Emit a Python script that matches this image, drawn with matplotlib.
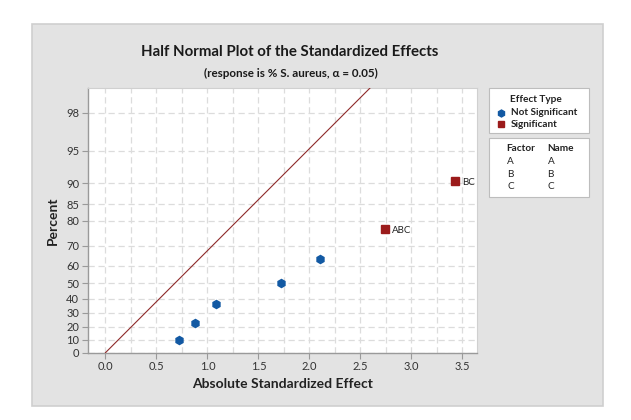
import numpy as np
import matplotlib
matplotlib.use('Agg')
from matplotlib import pyplot as plt
from matplotlib.patches import Rectangle
from matplotlib.lines import Line2D
from statistics import NormalDist

# effects
effects = [0.72, 0.88, 1.08, 1.72, 2.10, 2.74, 3.43]
percents = [9.5, 23.0, 36.5, 50.0, 63.5, 77.0, 90.5]
significant = [False, False, False, False, False, True, True]
point_labels = ['', '', '', '', '', 'ABC', 'BC']

y_ticks = [0, 10, 20, 30, 40, 50, 60, 70, 80, 85, 90, 95, 98]
x_ticks = [0.0, 0.5, 1.0, 1.5, 2.0, 2.5, 3.0, 3.5]
line_slope = 1.01  # reference line: effect = slope * z

factors = ['A', 'B', 'C']
names = ['A', 'B', 'C']

FONT = ['Lato', 'DejaVu Sans']
plt.rcParams['font.family'] = FONT

nd = NormalDist()
_inv = np.vectorize(lambda p: nd.inv_cdf(min(max(0.5 + p / 200.0, 1e-12), 1 - 1e-12)),
                    otypes=[float])
_fwd = np.vectorize(lambda z: 200.0 * (nd.cdf(z) - 0.5), otypes=[float])


def half_normal(p):
    return _inv(np.asarray(p, dtype=float))


def half_normal_inv(z):
    return _fwd(np.asarray(z, dtype=float))


W, H = 631, 420
fig = plt.figure(figsize=(W / 100, H / 100), dpi=100)
fig.patch.set_facecolor('white')


def px(x0, y0, x1, y1):
    return (x0 / W, 1 - y1 / H, (x1 - x0) / W, (y1 - y0) / H)


# gray panel
l, b, w, h = px(32, 24, 603, 406)
fig.patches.append(Rectangle((l, b), w, h, transform=fig.transFigure,
                             facecolor='#e3e3e3', edgecolor='#cfcfcf', lw=1.2, zorder=-2))

ax = fig.add_axes(px(87.5, 88.3, 476.7, 352.7))
ax.set_zorder(2)
ax.set_facecolor('white')
ax.set_yscale('function', functions=(half_normal, half_normal_inv))
ax.set_ylim(0, 98.97)
ax.set_xlim(-0.176, 3.64)

ax.set_xticks(x_ticks)
ax.set_xticks(np.arange(0.25, 3.6, 0.5), minor=True)
ax.set_xticklabels([f'{t:.1f}' for t in x_ticks])
ax.set_yticks(y_ticks)
ax.set_yticklabels([str(t) for t in y_ticks])
ax.yaxis.set_minor_locator(matplotlib.ticker.NullLocator())

grid_kw = dict(color='#dcdcdc', linestyle=(0, (5, 3)), linewidth=0.9)
ax.grid(True, which='major', axis='both', **grid_kw)
ax.grid(True, which='minor', axis='x', **grid_kw)
ax.set_axisbelow(True)

ax.tick_params(axis='both', which='major', labelsize=8, colors='#9a9a9a',
               labelcolor='#333333', length=4, width=0.8, pad=2)
ax.tick_params(axis='x', which='minor', length=0)
for side in ['left', 'bottom']:
    ax.spines[side].set_color('#9a9a9a')
    ax.spines[side].set_linewidth(1.0)
for side in ['top', 'right']:
    ax.spines[side].set_color('#d0d0d0')
    ax.spines[side].set_linewidth(0.8)

# reference line
ztop = 3.0
ax.plot([0, line_slope * ztop], [0, float(half_normal_inv(ztop))],
        color='#8e2a2a', lw=0.8, zorder=3, clip_on=True)

for x, p, sig, lab in zip(effects, percents, significant, point_labels):
    if sig:
        ax.plot(x, p, marker='s', ms=5.5, color='#9b1b1b', mec='#9b1b1b', zorder=4)
        ax.annotate(lab, (x, p), xytext=(5, -1), textcoords='offset points',
                    va='center', ha='left', fontsize=7, color='#222222')
    else:
        ax.plot(x, p, marker='h', ms=5.8, color='#1259a3', mec='#1259a3', zorder=4)

ax.set_xlabel('Absolute Standardized Effect', fontsize=10, fontweight='bold',
              color='#222222', labelpad=4)
ax.set_ylabel('Percent', fontsize=10, fontweight='bold', color='#222222', labelpad=5)

fig.text(290 / W, 1 - 52 / H, 'Half Normal Plot of the Standardized Effects',
         ha='center', va='center', fontsize=10.8, fontweight='bold', color='#1a1a1a')
fig.text(291 / W, 1 - 73 / H, '(response is % S. aureus, \u03b1 = 0.05)',
         ha='center', va='center', fontsize=8.4, fontweight='bold', color='#1a1a1a')

# legend boxes
for box in [(489, 88, 589, 133), (489, 138, 589, 197)]:
    l, b, w, h = px(*box)
    fig.patches.append(Rectangle((l, b), w, h, transform=fig.transFigure,
                                 facecolor='white', edgecolor='#bdbdbd', lw=0.8, zorder=1))

fs = 7.2
fig.text(536 / W, 1 - 99 / H, 'Effect Type', ha='center', va='center', fontsize=fs,
         fontweight='bold', color='#222222')
fig.add_artist(Line2D([501 / W], [1 - 112.5 / H], marker='h', ms=5, color='#1259a3',
                      transform=fig.transFigure))
fig.add_artist(Line2D([501 / W], [1 - 124.3 / H], marker='s', ms=4.5, color='#9b1b1b',
                      transform=fig.transFigure))
fig.text(511 / W, 1 - 112.5 / H, 'Not Significant', ha='left', va='center', fontsize=fs,
         fontweight='bold', color='#222222')
fig.text(511 / W, 1 - 124.3 / H, 'Significant', ha='left', va='center', fontsize=fs,
         fontweight='bold', color='#222222')

fig.text(506.5 / W, 1 - 148.3 / H, 'Factor', ha='left', va='center', fontsize=fs,
         fontweight='bold', color='#222222')
fig.text(547 / W, 1 - 148.3 / H, 'Name', ha='left', va='center', fontsize=fs,
         fontweight='bold', color='#222222')
for i, (f, n) in enumerate(zip(factors, names)):
    yy = 1 - (161.5 + 12.6 * i) / H
    fig.text(507 / W, yy, f, ha='left', va='center', fontsize=fs, color='#222222')
    fig.text(547.5 / W, yy, n, ha='left', va='center', fontsize=fs, color='#222222')

fig.savefig('out.png', dpi=100, facecolor='white')
